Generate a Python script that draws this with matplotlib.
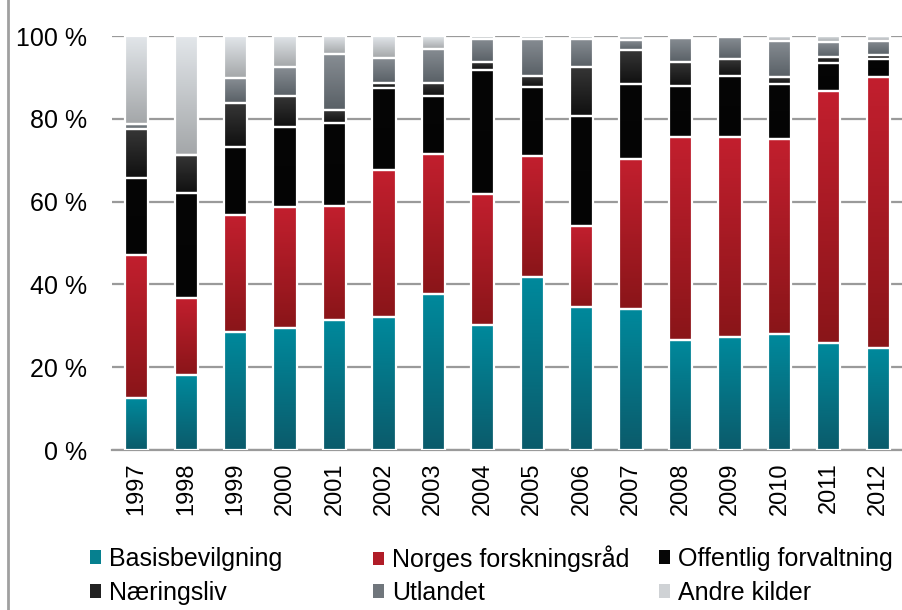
import numpy as np
import matplotlib
matplotlib.use('Agg')
import matplotlib.pyplot as plt
from matplotlib.colors import LinearSegmentedColormap
from matplotlib.patches import Patch
from matplotlib.lines import Line2D

plt.rcParams['font.family'] = ['Liberation Sans', 'DejaVu Sans']

years = ['1997', '1998', '1999', '2000', '2001', '2002', '2003', '2004',
         '2005', '2006', '2007', '2008', '2009', '2010', '2011', '2012']
basis = [12.5, 18.0, 28.6, 29.5, 31.5, 32.1, 37.7, 30.1, 41.9, 34.6, 34.1, 26.6, 27.4, 28.0, 25.8, 24.6]
nfr = [34.6, 18.8, 28.1, 29.2, 27.5, 35.5, 33.7, 31.7, 29.0, 19.6, 36.1, 49.0, 48.2, 47.2, 60.8, 65.5]
offentlig = [18.7, 25.3, 16.6, 19.4, 20.1, 19.9, 14.1, 30.1, 16.9, 26.5, 18.2, 12.3, 14.8, 13.2, 6.8, 4.3]
naering = [11.7, 9.2, 10.6, 7.5, 3.0, 1.2, 3.1, 1.7, 2.5, 11.9, 8.2, 5.9, 4.0, 1.6, 1.6, 0.9]
utland = [1.2, 0.0, 6.0, 6.8, 13.5, 6.1, 8.3, 5.7, 9.0, 6.7, 2.4, 5.6, 5.3, 8.8, 3.5, 3.5]
andre = [21.3, 28.7, 10.1, 7.6, 4.4, 5.2, 3.1, 0.7, 0.7, 0.7, 1.0, 0.6, 0.3, 1.2, 1.5, 1.2]

names = ['Basisbevilgning', 'Norges forskningsråd', 'Offentlig forvaltning',
         'Næringsliv', 'Utlandet', 'Andre kilder']
series = [basis, nfr, offentlig, naering, utland, andre]
# (top colour, bottom colour) of each gradient
grads = [('#00899c', '#0b5b6b'), ('#c21f2e', '#8a1519'), ('#060606', '#040404'),
         ('#363636', '#101010'), ('#878d93', '#596066'), ('#e2e6ea', '#a4a7a9')]
legend_cols = ['#06808f', '#b01c27', '#060606', '#222222', '#70767c', '#cfd2d5']

fig = plt.figure(figsize=(9.03, 6.10), dpi=100)
ax = fig.add_axes([112/903, 1-450/610, 1-112/903, (450-36)/610])

x = np.arange(len(years))
w = 0.47
bottom = np.zeros(len(years))
grad_img = np.linspace(0, 1, 64).reshape(-1, 1)
for vals, (ctop, cbot) in zip(series, grads):
    vals = np.array(vals)
    bars = ax.bar(x, vals, w, bottom=bottom, color=cbot, linewidth=0, zorder=3)
    cmap = LinearSegmentedColormap.from_list('g', [ctop, cbot])
    for p in bars:
        if p.get_height() <= 0:
            continue
        x0, y0 = p.get_x(), p.get_y()
        im = ax.imshow(grad_img, cmap=cmap, aspect='auto', zorder=3.5,
                       extent=(x0, x0 + p.get_width(), y0, y0 + p.get_height()),
                       origin='upper')
        im.set_clip_path(p)
    ax.bar(x, vals, w, bottom=bottom, facecolor='none', edgecolor='white',
           linewidth=1.6, zorder=4)
    bottom += vals

ax.set_xlim(-0.5, len(years) - 0.5)
ax.set_ylim(0, 100)
ax.set_yticks([0, 20, 40, 60, 80, 100])
ax.set_yticklabels(['0 %', '20 %', '40 %', '60 %', '80 %', '100 %'], fontsize=18)
ax.set_xticks(x)
ax.set_xticklabels(years, rotation=90, fontsize=17)
ax.tick_params(length=0)
ax.tick_params(axis='x', pad=9)
ax.tick_params(axis='y', pad=18)
ax.grid(axis='y', color='#9a9a9a', linewidth=1.6, zorder=0)
for s in ['left', 'right', 'top']:
    ax.spines[s].set_visible(False)
ax.spines['bottom'].set_color('#9a9a9a')
ax.spines['bottom'].set_linewidth(1.6)

# chart border on the left
fig.add_artist(Line2D([8/903, 8/903], [0, 1], color='#a0a0a0', linewidth=2))

# legend, one entry at a time so the columns sit like in the original
cols_x = [90/903, 373/903, 659/903]
rows_y = [1-559/610, 1-593/610]
for i, name in enumerate(names):
    leg = fig.legend([Patch(facecolor=legend_cols[i], edgecolor='none')], [name],
                     loc='center left', bbox_to_anchor=(cols_x[i % 3], rows_y[i // 3]),
                     frameon=False, fontsize=18, handlelength=0.45, handleheight=0.45,
                     handletextpad=0.3, borderpad=0, borderaxespad=0)

fig.savefig('out.png', dpi=100)
